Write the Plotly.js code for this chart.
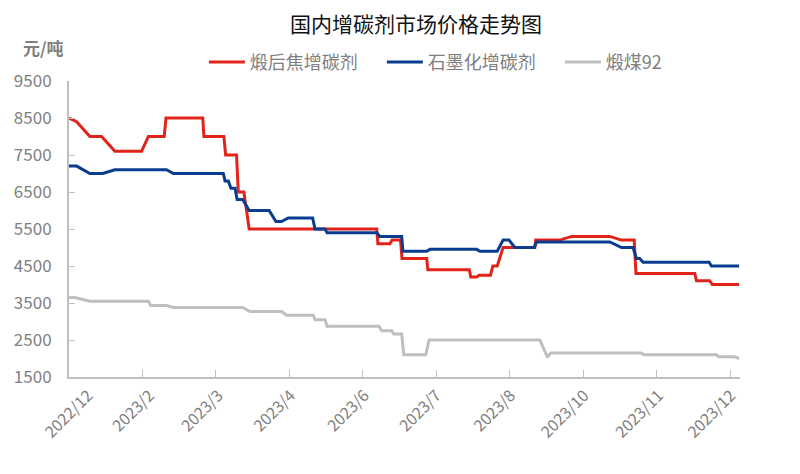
<!DOCTYPE html>
<html>
<head>
<meta charset="utf-8">
<script src="https://cdn.plot.ly/plotly-3.0.1.min.js"></script>
<style>html,body{margin:0;padding:0;background:#fff;}#chart{width:800px;height:474px;}</style>
</head>
<body>
<div id="chart"></div>
<script>
// Category positions (working-day index) and tick labels
const tickPositions = [0, 25, 50, 75, 100, 125, 150, 175, 200, 225];
const tickLabels = ['2022/12', '2023/2', '2023/3', '2023/4', '2023/6', '2023/7', '2023/8', '2023/10', '2023/11', '2023/12'];

// 煅后焦增碳剂 (change points)
const calcinedX = [0, 2.6, 7.1, 11.1, 15.6, 24.7, 27.0, 32.4, 33.0, 45.5, 45.9, 52.7, 53.3, 57.0, 57.6, 59.5, 61.3, 104.7, 105.1, 109.2, 109.9, 112.8, 113.3, 121.7, 122.1, 136.2, 136.7, 138.7, 139.5, 143.4, 144.2, 145.7, 147.7, 158.5, 158.8, 167.0, 171.0, 184.0, 188.0, 192.3, 192.9, 212.9, 213.5, 218.0, 218.9, 228.0];
const calcinedY = [8500, 8400, 8000, 8000, 7600, 7600, 8000, 8000, 8500, 8500, 8000, 8000, 7500, 7500, 6500, 6500, 5500, 5500, 5100, 5100, 5200, 5200, 4700, 4700, 4400, 4400, 4200, 4200, 4250, 4250, 4500, 4500, 5000, 5000, 5200, 5200, 5300, 5300, 5200, 5200, 4300, 4300, 4100, 4100, 4000, 4000];

// 石墨化增碳剂
const graphiteX = [0, 2.6, 7.1, 11.5, 15.6, 33.2, 35.5, 52.5, 53.1, 54.2, 55.1, 56.5, 57.2, 59.1, 61.3, 68.1, 70.4, 72.3, 74.6, 82.9, 83.7, 87.1, 87.8, 104.7, 105.8, 113.2, 113.6, 121.7, 122.8, 138.7, 139.8, 145.7, 147.7, 149.7, 151.7, 158.3, 159.1, 184.0, 188.0, 191.9, 193.1, 194.2, 195.3, 217.8, 218.6, 228.0];
const graphiteY = [7200, 7200, 7000, 7000, 7100, 7100, 7000, 7000, 6800, 6800, 6600, 6600, 6300, 6300, 6000, 6000, 5700, 5700, 5800, 5800, 5500, 5500, 5400, 5400, 5300, 5300, 4900, 4900, 4950, 4950, 4900, 4900, 5200, 5200, 5000, 5000, 5150, 5150, 5000, 5000, 4700, 4700, 4600, 4600, 4500, 4500];

// 煅煤92
const coalX = [0, 2.0, 7.1, 27.0, 27.8, 33.2, 35.5, 59.1, 61.6, 72.3, 74.0, 83.1, 83.7, 87.1, 87.8, 105.5, 106.4, 109.8, 110.5, 113.2, 113.9, 121.4, 122.5, 160.2, 162.8, 163.9, 194.6, 195.6, 220.3, 221.1, 226.4, 228.0];
const coalY = [3650, 3650, 3550, 3550, 3430, 3430, 3380, 3380, 3270, 3270, 3170, 3170, 3050, 3050, 2870, 2870, 2750, 2750, 2660, 2660, 2100, 2100, 2500, 2500, 2030, 2150, 2150, 2100, 2100, 2050, 2050, 2000];

const seriesNames = ['煅后焦增碳剂', '石墨化增碳剂', '煅煤92'];
const seriesColors = ['#E2231A', '#0A3D8F', '#BFBFBF'];

const FONT = '"Noto Sans CJK SC", "Noto Sans", sans-serif';
const GRAY = '#7F7F7F';

// small label nudges (Excel places the first rotated label further right)
const labelNudge = [6.5, 2.4, 0.8, 0.4, 0.5, 0, 0.3, 0.3, 0.6, 0.2];
const labelPositions = tickPositions.map((p, i) => p + labelNudge[i]);

const traces = [
  {x: calcinedX, y: calcinedY},
  {x: graphiteX, y: graphiteY},
  {x: coalX, y: coalY}
].map((d, i) => ({
  type: 'scatter', mode: 'lines', x: d.x, y: d.y, name: seriesNames[i],
  line: {color: seriesColors[i], width: 3}, hoverinfo: 'x+y'
}));

const layout = {
  width: 800, height: 474,
  margin: {l: 69, r: 60, t: 81, b: 97},
  paper_bgcolor: '#fff', plot_bgcolor: '#fff',
  font: {family: FONT, color: GRAY},
  title: {text: '国内增碳剂市场价格走势图', font: {family: FONT, size: 21, color: '#111'},
          x: 0.52, xref: 'container', xanchor: 'center', y: 0.949, yref: 'container', yanchor: 'middle'},
  showlegend: true,
  legend: {orientation: 'h', x: 0.201, xanchor: 'left', y: 1.063, yanchor: 'middle',
           font: {family: FONT, size: 18, color: GRAY}, itemwidth: 36, entrywidth: 127,
           bgcolor: 'rgba(0,0,0,0)'},
  xaxis: {
    range: [0, 228.3], tickmode: 'array', tickvals: tickPositions, showticklabels: false,
    ticks: 'inside', ticklen: 7, tickcolor: '#BFBFBF', tickwidth: 1,
    showline: true, linecolor: '#BFBFBF', linewidth: 2, showgrid: false, zeroline: false, fixedrange: true
  },
  xaxis2: {
    overlaying: 'x', side: 'bottom', anchor: 'y',
    range: [0, 228.3], tickmode: 'array', tickvals: labelPositions, ticktext: tickLabels,
    tickangle: -45, ticks: '', showline: false, showgrid: false, zeroline: false,
    ticklabelstandoff: 5, tickfont: {family: FONT, size: 16, color: GRAY}, fixedrange: true
  },
  yaxis: {
    range: [1500, 9500], tickmode: 'array', tickvals: [1500, 2500, 3500, 4500, 5500, 6500, 7500, 8500, 9500],
    ticks: 'inside', ticklen: 6, tickcolor: '#BFBFBF', tickwidth: 1,
    showline: true, linecolor: '#BFBFBF', linewidth: 2, showgrid: false, zeroline: false,
    tickfont: {family: FONT, size: 17, color: GRAY}, ticklabelstandoff: 12, fixedrange: true
  },
  annotations: [{
    text: '<b>元/吨</b>', xref: 'paper', yref: 'paper', x: -0.038, y: 1.112, xanchor: 'center', yanchor: 'middle',
    showarrow: false, font: {family: FONT, size: 17, color: GRAY}
  }]
};

// an invisible trace on xaxis2 so that its labels are drawn
traces.push({type: 'scatter', mode: 'lines', x: [0, 228.3], y: [null, null], xaxis: 'x2', yaxis: 'y',
             showlegend: false, hoverinfo: 'skip', line: {width: 0}});

Plotly.newPlot('chart', traces, layout, {staticPlot: true, displayModeBar: false});
</script>
</body>
</html>
